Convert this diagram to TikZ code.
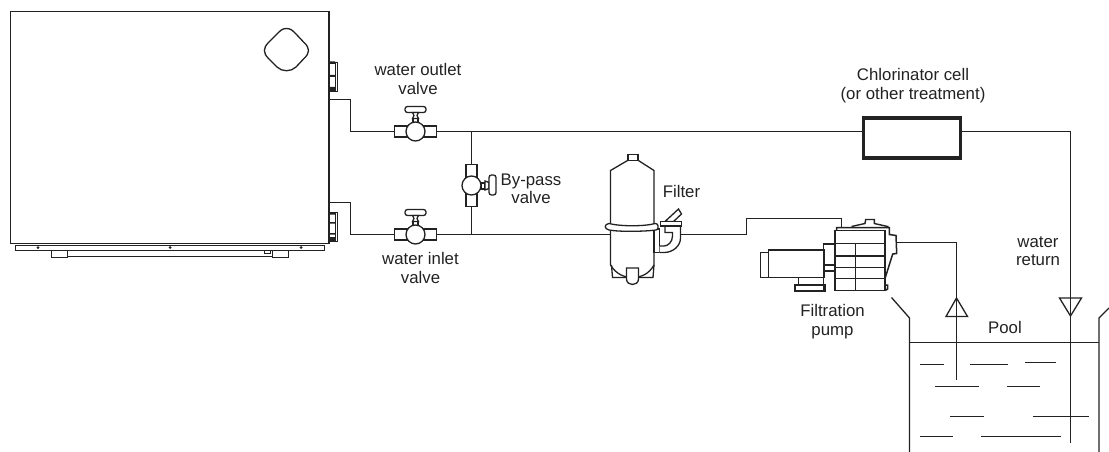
\documentclass[tikz,border=0pt]{standalone}
\usepackage{fontspec}
\setmainfont{Liberation Sans}
\definecolor{ink}{HTML}{222222}
\tikzset{
  ln/.style={draw=ink,line width=1.3pt,line join=miter},
  pipe/.style={draw=ink,line width=1.3pt},
  body/.style={rectangle,draw=ink,fill=white,line width=1.3pt,inner sep=0pt,outer sep=0pt},
  ball/.style={circle,draw=ink,fill=white,line width=1.3pt,inner sep=0pt,outer sep=0pt,minimum size=19pt},
  lbl/.style={align=center,inner sep=0pt,text=ink,font=\fontsize{16.8}{18.5}\selectfont},
  pt/.style={circle,fill=ink,inner sep=0pt,minimum size=3pt}
}
\newcommand{\hvalve}[3]{%
  \draw[ln,fill=white] (#2-2.5,#3-13) rectangle (#2+2.5,#3-7);
  \draw[ln,fill=white,rounded corners=2.5pt] (#2-10.5,#3-25) rectangle (#2+10.5,#3-19);
  \draw[ln,fill=white] (#2-3,#3-19) -- (#2-1.5,#3-16) -- (#2-3,#3-13) -- (#2+3,#3-13) -- (#2+1.5,#3-16) -- (#2+3,#3-19) -- cycle;
  \node[body,minimum width=42pt,minimum height=11pt] (#1) at (#2,#3) {};
  \node[ball] (#1c) at (#2,#3) {};
}
\begin{document}
\begin{tikzpicture}[x=1pt,y=-1pt]
\useasboundingbox (0,0) rectangle (1109,452);
% heat pump
\node[body,line width=1.3pt,minimum width=318.5pt,minimum height=232pt,anchor=north west] (unit) at (10.5,11.5) {};
\draw[ln] (15.5,245) -- (15.5,250.5) -- (324.5,250.5) -- (324.5,245);
\draw[ln,line width=0.6pt] (15.5,245) -- (324.5,245);
\draw[ln] (51.5,250.5) -- (51.5,257.5) -- (67.5,257.5) -- (67.5,250.5);
\draw[ln] (272.5,250.5) -- (272.5,257.5) -- (288.5,257.5) -- (288.5,250.5);
\draw[ln,line width=0.8pt] (67.5,256) -- (272.5,256);
\draw[ln,line width=0.6pt] (264,250.5) rectangle (270,253.5);
\node[pt] (d1) at (38,247.5) {};
\node[pt] (d2) at (170,247.5) {};
\node[pt] (d3) at (301,247.5) {};
\draw[ln] (286.5,28.5) .. controls (291,28.5) and (293,31) .. (296,34) -- (304,42.5)
  .. controls (310,48) and (310,53) .. (304,58.5) -- (296,67)
  .. controls (291,72) and (282,72) .. (277,67) -- (268.5,58.5)
  .. controls (263,53) and (263,48) .. (268.5,42.5) -- (277,34)
  .. controls (280,31) and (282,28.5) .. (286.5,28.5) -- cycle;
% unit connectors
\draw[ln,line width=0.9pt] (329,62) -- (337.2,62) -- (337.2,91.5) -- (329,91.5);
\draw[ln,line width=0.7pt] (335,62) -- (335,91.5);
\fill[ink] (329,61.5) rectangle (335,64) (329,75) rectangle (335,77) (329,87) rectangle (335,91.5);
\draw[ln,line width=0.9pt] (329,212) -- (337.2,212) -- (337.2,241) -- (329,241);
\draw[ln,line width=0.7pt] (335,212) -- (335,241);
\fill[ink] (329,212) rectangle (335,214.5) (329,222) rectangle (335,223.5) (329,233) rectangle (335,234.5) (329,237) rectangle (335,241);
% valves
\hvalve{vout}{415.5}{131.5}
\hvalve{vin}{415.5}{234.5}
\node[body,minimum width=11pt,minimum height=42pt] (vby) at (471.5,185.5) {};
\draw[ln,fill=white] (481,183) rectangle (485,189);
\draw[ln,fill=white] (485,181) -- (489,182.5) -- (489,188.5) -- (485,190) -- cycle;
\draw[ln,fill=white,rounded corners=2.5pt] (489,175) rectangle (496,195);
\node[ball] (vbyc) at (471.5,185.5) {};
% chlorinator
\node[body,line width=3.6pt,minimum width=97pt,minimum height=40pt,anchor=north west] (chl) at (863.5,118) {};
% pool
\coordinate (pl0) at (891.5,297.5);
\coordinate (pl1) at (909.5,318);
\coordinate (pl2) at (909.5,452);
\coordinate (pr0) at (1109,308);
\coordinate (pr1) at (1099,318);
\coordinate (pr2) at (1099,452);
\draw[ln] (pl0) -- (pl1) -- (pl2);
\draw[ln] (pr0) -- (pr1) -- (pr2);
\draw[ln] (pl1 |- 0,342.5) -- (pr1 |- 0,342.5);
\foreach \a/\b/\y in {920/943.5/364.5,970/1007.5/364.5,1025/1055.5/362.5,934.5/979/386.5,1006.5/1040/386.5,950/983.5/416.5,1032.5/1089/416.5,919.5/952.5/436.5,981/1060.5/436.5}
  \draw[ln] (\a,\y) -- (\b,\y);
% filter
\node[body,minimum width=10pt,minimum height=5.5pt] (fcap) at (633,157.5) {};
\draw[ln] (fcap.south west) -- (610.5,170.5) -- (610.5,265) (fcap.south east) -- (654,170.5) -- (654,265);
\draw[ln] (610.5,265) .. controls (616,274) and (624,277.5) .. (632.5,277.5) .. controls (641,277.5) and (649,274) .. (654,265);
\draw[ln] (611.5,265) -- (612.5,277.5) -- (626.5,277.5) (638.5,277.5) -- (653,277.5) -- (654,265);
\draw[ln,fill=white] (626.5,268) -- (638.5,268) -- (638.5,279) .. controls (638.5,283) and (635,284.5) .. (632.5,284.5) .. controls (630,284.5) and (626.5,283) .. (626.5,279) -- cycle;
\draw[ln,fill=white] (654,229) rectangle (659.5,252.5);
\draw[ln,fill=white] (609,223.5) .. controls (620,226.5) and (645,226.5) .. (655,223.5) -- (657,224) .. controls (659,226) and (658,230) .. (656,230)
  .. controls (645,231.5) and (620,232) .. (609,230) .. controls (604,229) and (604,224) .. (609,223.5) -- cycle;
\draw[ln,fill=white] (659.5,252.5) -- (664,252.5) .. controls (673,252.5) and (680.5,246) .. (680.5,238) -- (680.5,226) -- (665,226) -- (665,232.5) -- (672.5,232.5) -- (672.5,236) .. controls (672.5,242) and (668,246) .. (664,246) -- (659.5,246);
\draw[ln,fill=white] (665,221.5) -- (678.5,209) -- (681.5,214) -- (673.5,221.5) -- cycle;
\node[body,minimum width=21pt,minimum height=4.5pt,anchor=north west] (fflange) at (660.5,221.5) {};
% pump
\node[body,minimum width=8pt,minimum height=25pt,anchor=north west] (mend) at (760.5,252.5) {};
\node[body,line width=1.5pt,minimum width=56pt,minimum height=27.5pt,anchor=north west] (motor) at (768.5,250) {};
\draw[ln] (798.5,277.5) -- (798.5,285);
\node[body,line width=1.5pt,minimum width=30pt,minimum height=6pt,anchor=north west] (pbase) at (795,285) {};
\draw[ln,line width=1.5pt] (835,244) -- (823.5,244) -- (823.5,291);
\draw[ln] (824,265) -- (835,265) (824,271) -- (835,271);
\node[body,line width=1.5pt,minimum width=50pt,minimum height=60pt,anchor=north west] (phead) at (835,230.5) {};
\draw[ln] (835,243.5) -- (885,243.5) (835,256) -- (885,256) (835,267.5) -- (885,267.5) (835,278.5) -- (885,278.5) (855.5,243.5) -- (855.5,290.5);
\draw[ln,line width=1.4pt] (851.5,226.5) -- (865,223.5) -- (865.7,219.5) -- (874.3,219.5) -- (874.3,223.5) -- (888.5,226.7);
\draw[ln,line width=1.5pt] (836.5,230.5) -- (836.5,227.5) -- (889.3,227.5) -- (889.3,234.5) -- (896,235.5) -- (896.7,253.5) -- (892.7,254) -- (885,278.5) -- (885,285) -- (887.7,285) -- (887.7,289) -- (885,290.5);
% pipes
\coordinate (o1) at (329,99.5);
\coordinate (o2) at (350.5,99.5);
\coordinate (o3) at (350.5,131.5);
\coordinate (i1) at (329,202.5);
\coordinate (i2) at (350.5,202.5);
\coordinate (i3) at (350.5,234.5);
\coordinate (jt) at (471.5,131.5);
\coordinate (jb) at (471.5,234.5);
\coordinate (fl) at (611,234.5);
\coordinate (fr) at (680.5,234.5);
\coordinate (p1) at (746.5,234.5);
\coordinate (p2) at (746.5,218.5);
\coordinate (p3) at (841.5,218.5);
\coordinate (p4) at (841.5,227);
\coordinate (r1) at (1070.5,131.5);
\coordinate (r2) at (1070.5,443);
\coordinate (s0) at (896.5,242.5);
\coordinate (s1) at (956.5,242.5);
\coordinate (s2) at (956.5,380);
\draw[pipe] (o1) -- (o2) -- (o3) -- (vout.west);
\draw[pipe] (i1) -- (i2) -- (i3) -- (vin.west);
\draw[pipe] (vout.east) -- (jt) -- (chl.west |- jt);
\draw[pipe] (vin.east) -- (jb) -- (fl);
\draw[pipe] (jt) -- (vby.north) (vby.south) -- (jb);
\draw[pipe] (fr) -- (p1) -- (p2) -- (p3) -- (p4);
\draw[pipe] (chl.east |- r1) -- (r1) -- (r2);
\draw[pipe] (s0) -- (s1) -- (s2);
% flow arrows
\draw[ln] (956.5,298) -- (946,316.5) -- (967.5,316.5) -- cycle;
\draw[ln] (1059.5,298) -- (1081.5,298) -- (1070.5,316) -- cycle;
% labels
\node[lbl] (t1) at (418,79) {water outlet\\valve};
\node[lbl] (t2) at (420.5,268) {water inlet\\valve};
\node[lbl] (t3) at (531,189) {By-pass\\valve};
\node[lbl] (t4) at (681.5,191) {Filter};
\node[lbl] (t5) at (832.5,321.5) {Filtration\\pump};
\node[lbl] (t6) at (913,85.5) {Chlorinator cell\\(or other treatment)};
\node[lbl] (t7) at (1038,251) {water\\return};
\node[lbl] (t8) at (1005,327) {Pool};
\end{tikzpicture}
\end{document}
